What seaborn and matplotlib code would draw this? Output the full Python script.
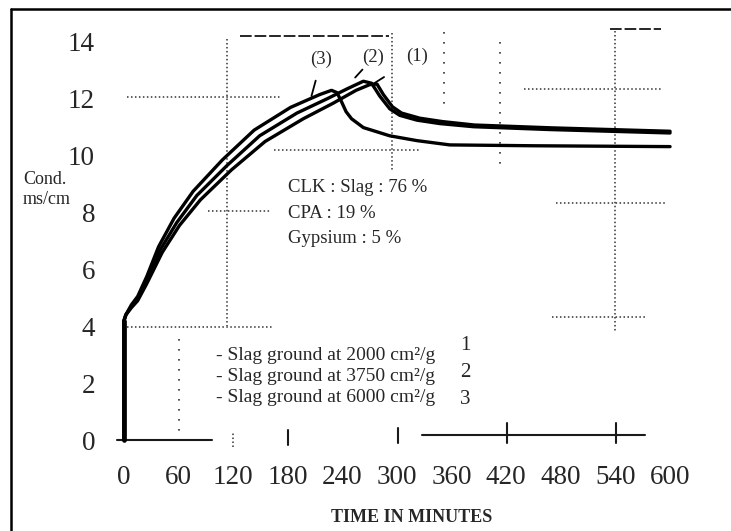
import matplotlib
matplotlib.use("Agg")
import matplotlib.pyplot as plt
import seaborn as sns
import pandas as pd
from matplotlib.lines import Line2D

# ---------------- data ----------------
# curve 1: slag ground at 2000 cm2/g
t1 = [0, 0, 2, 8, 15, 25, 42, 61, 84, 118, 155, 197, 230, 255, 270, 278, 285, 295, 305, 325, 350, 385, 470, 600]
y1 = [0, 4.2, 4.4, 4.65, 4.9, 5.5, 6.6, 7.55, 8.45, 9.5, 10.5, 11.3, 11.85, 12.3, 12.5, 12.52, 12.15, 11.72, 11.5, 11.32, 11.2, 11.08, 10.98, 10.86]
# curve 2: slag ground at 3750 cm2/g
t2 = [0, 0, 2, 8, 15, 25, 40, 58, 80, 113, 149, 190, 223, 245, 263, 272, 281, 292, 303, 322, 347, 384, 468, 600]
y2 = [0, 4.2, 4.4, 4.7, 4.95, 5.6, 6.7, 7.65, 8.6, 9.65, 10.7, 11.5, 12.0, 12.35, 12.62, 12.55, 12.1, 11.65, 11.42, 11.25, 11.13, 11.02, 10.92, 10.8]
# curve 3: slag ground at 6000 cm2/g
t3 = [0, 0, 2, 8, 15, 25, 38, 55, 76, 108, 143, 183, 215, 228, 234, 239, 244, 250, 263, 292, 322, 358, 450, 600]
y3 = [0, 4.2, 4.4, 4.75, 5.05, 5.75, 6.8, 7.8, 8.75, 9.85, 10.9, 11.7, 12.15, 12.3, 12.22, 11.9, 11.55, 11.3, 10.99, 10.7, 10.53, 10.38, 10.35, 10.32]

curve_labels = ["(1)", "(2)", "(3)"]
x_ticks = [0, 60, 120, 180, 240, 300, 360, 420, 480, 540, 600]
y_ticks = [0, 2, 4, 6, 8, 10, 12, 14]
legend_lines = ["- Slag ground at 2000 cm\u00b2/g",
                "- Slag ground at 3750 cm\u00b2/g",
                "- Slag ground at 6000 cm\u00b2/g"]
legend_nums = ["1", "2", "3"]
composition = ["CLK : Slag : 76 %", "CPA : 19 %", "Gypsium : 5 %"]

# decorative scan grid fragments (t0, t1, y0, y1, style)
guides = [
    (128, 291, 14.2, 14.2, "dash"),
    (113, 113, 14.1, 4.0, "dot"),
    (3, 171, 12.06, 12.06, "dot"),
    (294, 294, 14.3, 9.5, "dot"),
    (165, 325, 10.19, 10.19, "dot"),
    (92, 161, 8.04, 8.04, "dot"),
    (3, 163, 3.99, 3.99, "dot"),
    (539, 539, 14.4, 3.8, "dot"),
    (534, 590, 14.44, 14.44, "dash"),
    (439, 592, 12.36, 12.36, "dot"),
    (475, 595, 8.34, 8.34, "dot"),
    (470, 572, 4.31, 4.31, "dot"),
    (352, 352, 14.36, 11.56, "sparse"),
    (413, 413, 14.0, 9.65, "sparse"),
    (60, 60, 3.57, 0.0, "sparse"),
    (-8, 97, 0.0, 0.0, "solid"),
    (327, 572, 0.18, 0.18, "solid"),
    (421, 421, -0.1, 0.6, "solid"),
    (541, 541, -0.1, 0.6, "solid"),
    (120, 120, -0.25, 0.25, "dot"),
    (180, 180, -0.18, 0.35, "solid"),
    (301, 301, -0.1, 0.42, "solid"),
]

# ---------------- figure ----------------
sns.set_theme(style="white")
plt.rcParams["font.family"] = ["Liberation Serif", "DejaVu Serif"]

fig = plt.figure(figsize=(7.31, 5.31), dpi=100)
ax = fig.add_axes([0.1547, 0.1392, 0.7806, 0.8192])

styles = {
    "dot": dict(ls=(0, (1, 1.6)), lw=1.1, color="0.2"),
    "sparse": dict(ls=(0, (1, 5)), lw=1.2, color="0.2"),
    "dash": dict(ls=(0, (6, 1.5)), lw=1.4, color="0.15"),
    "solid": dict(ls="-", lw=1.5, color="0.1"),
}
for a, b, c, d, s in guides:
    ax.plot([a, b], [c, d], **styles[s], zorder=1)

for t, y in [(t1, y1), (t2, y2), (t3, y3)]:
    df = pd.DataFrame({"t": t, "y": y})
    sns.lineplot(data=df, x="t", y="y", sort=False, estimator=None,
                 color="black", lw=2.4, ax=ax, zorder=3)

# thick initial vertical jump
ax.plot([t1[0], t1[1]], [y1[0], y1[1]], color="black", lw=3.4, zorder=4)

# curve labels with leader lines
ax.annotate(curve_labels[2], xy=(206, 12.1), xytext=(217, 13.39),
            ha="center", va="center", fontsize=13.5,
            arrowprops=dict(arrowstyle="-", lw=1.3, color="black", shrinkA=7, shrinkB=0))
ax.annotate(curve_labels[1], xy=(254, 12.75), xytext=(274, 13.45),
            ha="center", va="center", fontsize=13.5,
            arrowprops=dict(arrowstyle="-", lw=1.3, color="black", shrinkA=9, shrinkB=0))
ax.annotate(curve_labels[0], xy=(274, 12.53), xytext=(322, 13.5),
            ha="center", va="center", fontsize=13.5,
            arrowprops=dict(arrowstyle="-", lw=1.3, color="black", shrinkA=16, shrinkB=0))

for i, txt in enumerate(composition):
    ax.text(180, 8.88 - 0.9 * i, txt, fontsize=13.5, ha="left", va="center")

for i, txt in enumerate(legend_lines):
    ax.text(101, 2.98 - 0.74 * i, txt, fontsize=14, ha="left", va="center")
for i, txt in enumerate(legend_nums):
    ax.text(375, 3.33 - 0.96 * i, txt, fontsize=15, ha="center", va="center")

ax.set_xlim(-12, 615)
ax.set_ylim(-0.6, 14.7)
ax.set_xticks(x_ticks)
ax.set_yticks(y_ticks)
ax.tick_params(axis="both", length=0, labelsize=19.5)
ax.tick_params(axis="y", pad=13)
ax.tick_params(axis="x", pad=6)
ax.set_xlabel("")
ax.set_ylabel("")
for sp in ax.spines.values():
    sp.set_visible(False)
ax.grid(False)

fig.text(23 / 731, 1 - 180 / 531, "Cond.", fontsize=13, ha="left", va="center")
fig.text(23 / 731, 1 - 200 / 531, "ms/cm", fontsize=13, ha="left", va="center")
fig.text(412 / 731, 1 - 518 / 531, "TIME IN MINUTES", fontsize=13,
         fontweight="bold", ha="center", va="center")

# scan frame: left and top edges
fig.add_artist(Line2D([11 / 731, 11 / 731], [0, 1 - 9 / 531], color="black", lw=1.8,
                      transform=fig.transFigure))
fig.add_artist(Line2D([11 / 731, 1], [1 - 9 / 531, 1 - 9 / 531], color="black", lw=1.8,
                      transform=fig.transFigure))

fig.savefig("out.png", dpi=100)
